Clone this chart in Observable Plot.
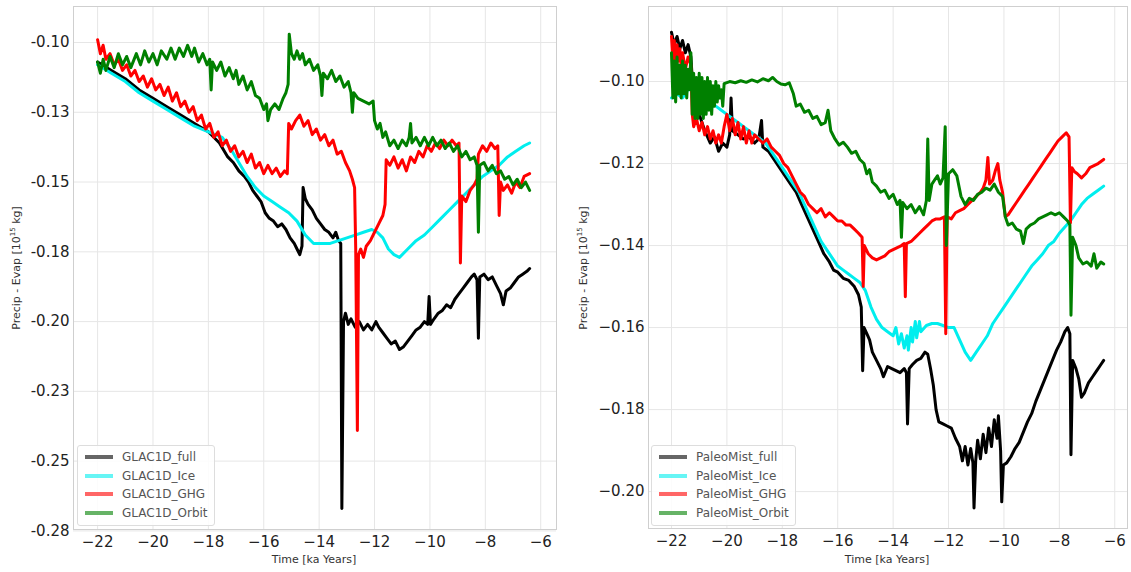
<!DOCTYPE html>
<html>
<head>
<meta charset="utf-8">
<script src="https://cdn.jsdelivr.net/npm/d3@7"></script>
<script src="https://cdn.jsdelivr.net/npm/@observablehq/plot@0.6"></script>
<style>
  html, body { margin: 0; padding: 0; background: #fff; }
  #wrap { position: relative; width: 1131px; height: 572px; font-family: "DejaVu Sans", sans-serif; overflow: hidden; }
  .panel { position: absolute; top: 0; }
  .ytitle { position: absolute; font-size: 11px; color: #333; white-space: nowrap; transform: translate(-50%, -50%) rotate(-90deg); }
  .xtitle { position: absolute; font-size: 11px; color: #333; white-space: nowrap; transform: translate(-50%, -50%); }
  .legend { position: absolute; background: rgba(255,255,255,0.85); border: 1px solid #ddd; border-radius: 3px; padding: 2px 6px 3px 7px; }
  .legend .row { display: flex; align-items: center; height: 18.6px; font-size: 12px; color: #555; }
  .legend .sw { width: 28px; height: 4px; margin-right: 9px; opacity: 0.6; }
</style>
</head>
<body>
<div id="wrap"></div>
<script>
// ---------------- DATA ----------------
const seriesColors = ["#000000", "#00eeee", "#ff0000", "#008000"];
const xTicks = [-22, -20, -18, -16, -14, -12, -10, -8, -6];

const leftNames = ["GLAC1D_full", "GLAC1D_Ice", "GLAC1D_GHG", "GLAC1D_Orbit"];
const rightNames = ["PaleoMist_full", "PaleoMist_Ice", "PaleoMist_GHG", "PaleoMist_Orbit"];

const leftYTicks = [-0.10, -0.125, -0.15, -0.175, -0.20, -0.225, -0.25, -0.275];
const leftYTickLabels = ["-0.10", "-0.13", "-0.15", "-0.18", "-0.20", "-0.23", "-0.25", "-0.28"];
const rightYTicks = [-0.10, -0.12, -0.14, -0.16, -0.18, -0.20];

// GLAC1D (left panel): [time ka, Precip - Evap]
const glacFull = [[-22.0,-0.107],[-21.5,-0.110],[-21.0,-0.113],[-20.5,-0.117],[-20.0,-0.120],[-19.5,-0.123],[-19.0,-0.126],[-18.5,-0.129],[-18.0,-0.132],[-17.6,-0.136],[-17.3,-0.141],[-17.1,-0.143],[-16.9,-0.146],[-16.7,-0.148],[-16.55,-0.150],[-16.4,-0.153],[-16.25,-0.155],[-16.1,-0.157],[-15.95,-0.161],[-15.8,-0.163],[-15.65,-0.164],[-15.5,-0.166],[-15.35,-0.165],[-15.2,-0.167],[-15.05,-0.170],[-14.9,-0.172],[-14.8,-0.174],[-14.7,-0.176],[-14.62,-0.173],[-14.58,-0.152],[-14.5,-0.156],[-14.4,-0.158],[-14.25,-0.160],[-14.1,-0.163],[-13.95,-0.165],[-13.8,-0.167],[-13.65,-0.168],[-13.5,-0.170],[-13.4,-0.168],[-13.3,-0.171],[-13.22,-0.172],[-13.18,-0.267],[-13.12,-0.200],[-13.05,-0.197],[-12.95,-0.201],[-12.85,-0.199],[-12.7,-0.202],[-12.55,-0.200],[-12.4,-0.203],[-12.25,-0.201],[-12.1,-0.203],[-11.95,-0.200],[-11.85,-0.202],[-11.7,-0.204],[-11.55,-0.206],[-11.4,-0.208],[-11.25,-0.207],[-11.1,-0.210],[-10.95,-0.209],[-10.8,-0.207],[-10.65,-0.205],[-10.5,-0.203],[-10.35,-0.202],[-10.2,-0.200],[-10.08,-0.201],[-10.03,-0.191],[-9.98,-0.201],[-9.85,-0.199],[-9.7,-0.197],[-9.55,-0.196],[-9.4,-0.194],[-9.25,-0.195],[-9.1,-0.192],[-8.95,-0.190],[-8.8,-0.188],[-8.65,-0.186],[-8.5,-0.184],[-8.4,-0.183],[-8.3,-0.185],[-8.25,-0.206],[-8.2,-0.184],[-8.05,-0.183],[-7.9,-0.185],[-7.75,-0.184],[-7.6,-0.187],[-7.45,-0.190],[-7.35,-0.194],[-7.25,-0.189],[-7.1,-0.188],[-6.95,-0.186],[-6.8,-0.184],[-6.65,-0.183],[-6.5,-0.182],[-6.4,-0.181]];

const glacIce = [[-22.0,-0.108],[-21.5,-0.111],[-21.0,-0.114],[-20.5,-0.118],[-20.0,-0.121],[-19.5,-0.124],[-19.0,-0.127],[-18.5,-0.130],[-18.0,-0.132],[-17.5,-0.134],[-17.2,-0.138],[-16.9,-0.143],[-16.6,-0.148],[-16.3,-0.152],[-16.0,-0.155],[-15.7,-0.157],[-15.4,-0.159],[-15.1,-0.161],[-14.8,-0.164],[-14.5,-0.169],[-14.2,-0.172],[-13.9,-0.172],[-13.6,-0.172],[-13.3,-0.171],[-13.0,-0.170],[-12.7,-0.169],[-12.4,-0.168],[-12.1,-0.167],[-11.9,-0.168],[-11.7,-0.170],[-11.5,-0.174],[-11.3,-0.176],[-11.1,-0.177],[-10.8,-0.174],[-10.5,-0.171],[-10.2,-0.169],[-9.9,-0.166],[-9.6,-0.163],[-9.3,-0.160],[-9.0,-0.157],[-8.7,-0.154],[-8.4,-0.151],[-8.1,-0.148],[-7.8,-0.146],[-7.5,-0.144],[-7.2,-0.141],[-6.9,-0.139],[-6.6,-0.137],[-6.4,-0.136]];

const glacGHG = [[-22.0,-0.099],[-21.9,-0.104],[-21.8,-0.101],[-21.7,-0.106],[-21.55,-0.104],[-21.4,-0.108],[-21.25,-0.106],[-21.1,-0.110],[-20.95,-0.108],[-20.8,-0.112],[-20.65,-0.110],[-20.5,-0.114],[-20.35,-0.112],[-20.2,-0.116],[-20.05,-0.113],[-19.9,-0.117],[-19.75,-0.115],[-19.6,-0.119],[-19.45,-0.116],[-19.3,-0.121],[-19.15,-0.118],[-19.0,-0.123],[-18.85,-0.121],[-18.7,-0.125],[-18.55,-0.123],[-18.4,-0.128],[-18.25,-0.126],[-18.1,-0.131],[-17.95,-0.129],[-17.8,-0.134],[-17.65,-0.132],[-17.5,-0.137],[-17.35,-0.135],[-17.2,-0.139],[-17.05,-0.137],[-16.9,-0.141],[-16.75,-0.139],[-16.6,-0.143],[-16.45,-0.140],[-16.3,-0.145],[-16.15,-0.143],[-16.0,-0.147],[-15.85,-0.144],[-15.7,-0.147],[-15.55,-0.145],[-15.4,-0.148],[-15.25,-0.146],[-15.15,-0.147],[-15.1,-0.129],[-15.0,-0.131],[-14.85,-0.128],[-14.7,-0.126],[-14.55,-0.130],[-14.4,-0.128],[-14.25,-0.133],[-14.1,-0.131],[-13.95,-0.135],[-13.8,-0.133],[-13.65,-0.137],[-13.5,-0.135],[-13.35,-0.140],[-13.2,-0.139],[-13.05,-0.143],[-12.9,-0.146],[-12.8,-0.149],[-12.72,-0.152],[-12.68,-0.174],[-12.62,-0.239],[-12.58,-0.176],[-12.5,-0.174],[-12.4,-0.177],[-12.3,-0.173],[-12.15,-0.171],[-12.0,-0.168],[-11.85,-0.165],[-11.7,-0.162],[-11.62,-0.158],[-11.58,-0.142],[-11.45,-0.144],[-11.3,-0.141],[-11.15,-0.145],[-11.0,-0.142],[-10.85,-0.146],[-10.7,-0.141],[-10.55,-0.143],[-10.4,-0.139],[-10.25,-0.141],[-10.1,-0.137],[-9.95,-0.139],[-9.8,-0.136],[-9.65,-0.138],[-9.5,-0.135],[-9.35,-0.137],[-9.2,-0.135],[-9.05,-0.137],[-8.95,-0.136],[-8.9,-0.179],[-8.85,-0.155],[-8.7,-0.157],[-8.55,-0.153],[-8.4,-0.151],[-8.3,-0.149],[-8.25,-0.140],[-8.1,-0.137],[-7.95,-0.139],[-7.8,-0.136],[-7.65,-0.138],[-7.55,-0.137],[-7.5,-0.162],[-7.45,-0.150],[-7.35,-0.153],[-7.2,-0.151],[-7.05,-0.154],[-6.9,-0.150],[-6.75,-0.152],[-6.6,-0.148],[-6.4,-0.147]];

const glacOrbit = [[-22.0,-0.107],[-21.9,-0.111],[-21.8,-0.106],[-21.7,-0.110],[-21.55,-0.105],[-21.4,-0.109],[-21.25,-0.104],[-21.1,-0.108],[-20.95,-0.105],[-20.8,-0.109],[-20.6,-0.104],[-20.45,-0.108],[-20.3,-0.103],[-20.15,-0.107],[-20.0,-0.104],[-19.85,-0.108],[-19.7,-0.103],[-19.5,-0.106],[-19.35,-0.102],[-19.2,-0.106],[-19.05,-0.102],[-18.9,-0.105],[-18.75,-0.101],[-18.6,-0.105],[-18.5,-0.102],[-18.35,-0.107],[-18.2,-0.104],[-18.05,-0.108],[-17.95,-0.106],[-17.9,-0.117],[-17.85,-0.107],[-17.7,-0.110],[-17.55,-0.107],[-17.4,-0.112],[-17.25,-0.109],[-17.1,-0.113],[-17.0,-0.110],[-16.9,-0.115],[-16.75,-0.112],[-16.6,-0.117],[-16.45,-0.114],[-16.3,-0.119],[-16.15,-0.120],[-16.0,-0.124],[-15.9,-0.122],[-15.85,-0.128],[-15.75,-0.124],[-15.6,-0.122],[-15.45,-0.124],[-15.3,-0.120],[-15.2,-0.118],[-15.12,-0.115],[-15.08,-0.097],[-15.0,-0.104],[-14.9,-0.106],[-14.8,-0.103],[-14.7,-0.106],[-14.6,-0.104],[-14.5,-0.108],[-14.35,-0.106],[-14.2,-0.110],[-14.05,-0.108],[-13.95,-0.112],[-13.9,-0.119],[-13.85,-0.111],[-13.7,-0.113],[-13.55,-0.110],[-13.4,-0.114],[-13.25,-0.112],[-13.1,-0.116],[-12.95,-0.114],[-12.85,-0.118],[-12.8,-0.125],[-12.75,-0.118],[-12.6,-0.120],[-12.4,-0.121],[-12.2,-0.122],[-12.05,-0.121],[-12.0,-0.128],[-11.9,-0.131],[-11.8,-0.129],[-11.7,-0.134],[-11.6,-0.132],[-11.45,-0.137],[-11.3,-0.135],[-11.15,-0.138],[-11.0,-0.135],[-10.85,-0.137],[-10.75,-0.134],[-10.7,-0.129],[-10.65,-0.136],[-10.5,-0.134],[-10.35,-0.137],[-10.2,-0.134],[-10.05,-0.137],[-9.9,-0.134],[-9.75,-0.137],[-9.6,-0.135],[-9.45,-0.138],[-9.3,-0.136],[-9.15,-0.139],[-9.0,-0.137],[-8.85,-0.141],[-8.7,-0.139],[-8.55,-0.142],[-8.4,-0.141],[-8.3,-0.144],[-8.25,-0.168],[-8.2,-0.144],[-8.05,-0.143],[-7.9,-0.146],[-7.75,-0.144],[-7.6,-0.147],[-7.45,-0.146],[-7.3,-0.149],[-7.15,-0.148],[-7.0,-0.151],[-6.85,-0.149],[-6.7,-0.152],[-6.55,-0.150],[-6.4,-0.153]];

// PaleoMist (right panel)
const paleoFull = [[-22.0,-0.088],[-21.9,-0.091],[-21.8,-0.089],[-21.7,-0.092],[-21.6,-0.090],[-21.5,-0.093],[-21.4,-0.091],[-21.3,-0.094],[-21.2,-0.105],[-21.0,-0.108],[-20.8,-0.112],[-20.6,-0.115],[-20.45,-0.1135],[-20.3,-0.117],[-20.15,-0.115],[-20.0,-0.116],[-19.9,-0.113],[-19.85,-0.104],[-19.8,-0.112],[-19.6,-0.113],[-19.4,-0.114],[-19.2,-0.1135],[-19.0,-0.115],[-18.85,-0.114],[-18.75,-0.1095],[-18.7,-0.116],[-18.5,-0.117],[-18.3,-0.119],[-18.1,-0.121],[-17.9,-0.123],[-17.7,-0.125],[-17.5,-0.127],[-17.3,-0.130],[-17.1,-0.133],[-16.9,-0.136],[-16.7,-0.139],[-16.5,-0.142],[-16.3,-0.144],[-16.15,-0.146],[-16.0,-0.1465],[-15.8,-0.148],[-15.6,-0.1485],[-15.4,-0.150],[-15.25,-0.152],[-15.15,-0.155],[-15.1,-0.1705],[-15.05,-0.160],[-14.95,-0.1615],[-14.85,-0.163],[-14.75,-0.166],[-14.6,-0.168],[-14.45,-0.170],[-14.35,-0.172],[-14.2,-0.1695],[-14.05,-0.170],[-13.9,-0.1705],[-13.75,-0.171],[-13.6,-0.170],[-13.52,-0.171],[-13.48,-0.1835],[-13.42,-0.170],[-13.3,-0.169],[-13.15,-0.168],[-13.0,-0.1675],[-12.85,-0.166],[-12.75,-0.1665],[-12.65,-0.170],[-12.55,-0.174],[-12.45,-0.180],[-12.35,-0.183],[-12.2,-0.1835],[-12.05,-0.184],[-11.9,-0.1845],[-11.75,-0.187],[-11.6,-0.189],[-11.5,-0.1925],[-11.4,-0.1890],[-11.3,-0.1935],[-11.2,-0.1895],[-11.12,-0.1930],[-11.08,-0.204],[-11.02,-0.1925],[-10.95,-0.1875],[-10.85,-0.1920],[-10.75,-0.1860],[-10.65,-0.1905],[-10.55,-0.1845],[-10.45,-0.1890],[-10.35,-0.1825],[-10.25,-0.1870],[-10.2,-0.1815],[-10.12,-0.190],[-10.08,-0.2025],[-10.02,-0.1935],[-9.9,-0.193],[-9.75,-0.1915],[-9.6,-0.1895],[-9.45,-0.188],[-9.3,-0.1855],[-9.15,-0.183],[-9.0,-0.181],[-8.85,-0.178],[-8.7,-0.1755],[-8.55,-0.173],[-8.4,-0.1705],[-8.25,-0.168],[-8.1,-0.1655],[-7.95,-0.1635],[-7.8,-0.161],[-7.7,-0.160],[-7.62,-0.1615],[-7.58,-0.191],[-7.52,-0.168],[-7.4,-0.170],[-7.3,-0.1725],[-7.2,-0.177],[-7.1,-0.176],[-6.95,-0.1735],[-6.8,-0.172],[-6.65,-0.1705],[-6.5,-0.169],[-6.4,-0.168]];

const paleoIce = [[-22.0,-0.104],[-21.8,-0.103],[-21.6,-0.104],[-21.4,-0.102],[-21.2,-0.1015],[-21.0,-0.103],[-20.8,-0.104],[-20.6,-0.105],[-20.4,-0.106],[-20.2,-0.107],[-20.0,-0.108],[-19.8,-0.109],[-19.6,-0.110],[-19.4,-0.111],[-19.2,-0.112],[-19.0,-0.113],[-18.8,-0.114],[-18.6,-0.115],[-18.4,-0.117],[-18.2,-0.119],[-18.0,-0.121],[-17.8,-0.123],[-17.6,-0.125],[-17.4,-0.127],[-17.2,-0.130],[-17.0,-0.133],[-16.8,-0.136],[-16.6,-0.139],[-16.4,-0.141],[-16.2,-0.143],[-16.0,-0.145],[-15.8,-0.146],[-15.6,-0.147],[-15.4,-0.148],[-15.2,-0.149],[-15.0,-0.151],[-14.8,-0.155],[-14.6,-0.158],[-14.4,-0.160],[-14.2,-0.161],[-14.0,-0.162],[-13.9,-0.1600],[-13.8,-0.1640],[-13.7,-0.1615],[-13.6,-0.1650],[-13.5,-0.1620],[-13.45,-0.1655],[-13.35,-0.1600],[-13.3,-0.1635],[-13.2,-0.1585],[-13.15,-0.1625],[-13.05,-0.1585],[-13.0,-0.1610],[-12.8,-0.1595],[-12.6,-0.159],[-12.4,-0.159],[-12.2,-0.1595],[-12.0,-0.160],[-11.8,-0.160],[-11.6,-0.163],[-11.4,-0.166],[-11.2,-0.168],[-11.0,-0.166],[-10.8,-0.164],[-10.6,-0.162],[-10.4,-0.159],[-10.2,-0.157],[-10.0,-0.155],[-9.8,-0.153],[-9.6,-0.151],[-9.4,-0.149],[-9.2,-0.147],[-9.0,-0.145],[-8.8,-0.1435],[-8.6,-0.142],[-8.4,-0.140],[-8.2,-0.139],[-8.0,-0.137],[-7.8,-0.1355],[-7.6,-0.134],[-7.4,-0.132],[-7.2,-0.130],[-7.0,-0.1285],[-6.8,-0.1275],[-6.6,-0.1265],[-6.4,-0.1255]];

const paleoGHG = [[-22.0,-0.089],[-21.95,-0.095],[-21.9,-0.090],[-21.85,-0.096],[-21.8,-0.091],[-21.75,-0.095],[-21.7,-0.092],[-21.65,-0.096],[-21.6,-0.093],[-21.5,-0.097],[-21.4,-0.094],[-21.3,-0.096],[-21.25,-0.108],[-21.2,-0.111],[-21.1,-0.109],[-21.0,-0.112],[-20.9,-0.110],[-20.8,-0.113],[-20.7,-0.111],[-20.6,-0.114],[-20.5,-0.112],[-20.4,-0.115],[-20.3,-0.113],[-20.2,-0.115],[-20.1,-0.111],[-20.0,-0.108],[-19.9,-0.112],[-19.8,-0.109],[-19.7,-0.113],[-19.6,-0.110],[-19.5,-0.114],[-19.4,-0.111],[-19.3,-0.115],[-19.2,-0.112],[-19.1,-0.115],[-19.0,-0.113],[-18.85,-0.114],[-18.7,-0.115],[-18.55,-0.114],[-18.4,-0.116],[-18.25,-0.117],[-18.1,-0.118],[-17.95,-0.120],[-17.8,-0.121],[-17.65,-0.123],[-17.5,-0.125],[-17.35,-0.127],[-17.2,-0.128],[-17.05,-0.130],[-16.9,-0.131],[-16.75,-0.132],[-16.6,-0.131],[-16.45,-0.133],[-16.3,-0.132],[-16.15,-0.133],[-16.0,-0.134],[-15.85,-0.134],[-15.7,-0.135],[-15.55,-0.135],[-15.4,-0.136],[-15.25,-0.137],[-15.12,-0.138],[-15.08,-0.150],[-15.04,-0.140],[-14.9,-0.142],[-14.75,-0.143],[-14.6,-0.1435],[-14.45,-0.143],[-14.3,-0.1425],[-14.15,-0.1415],[-14.0,-0.141],[-13.85,-0.1405],[-13.7,-0.140],[-13.6,-0.1395],[-13.56,-0.1525],[-13.52,-0.1395],[-13.35,-0.139],[-13.2,-0.138],[-13.05,-0.137],[-12.9,-0.136],[-12.75,-0.135],[-12.6,-0.134],[-12.45,-0.1335],[-12.3,-0.1335],[-12.15,-0.133],[-12.1,-0.1615],[-12.05,-0.133],[-11.9,-0.1335],[-11.75,-0.132],[-11.6,-0.1315],[-11.45,-0.131],[-11.3,-0.130],[-11.15,-0.129],[-11.0,-0.128],[-10.85,-0.127],[-10.75,-0.126],[-10.65,-0.124],[-10.58,-0.1185],[-10.52,-0.125],[-10.4,-0.124],[-10.3,-0.1215],[-10.22,-0.1200],[-10.15,-0.124],[-10.05,-0.127],[-9.95,-0.133],[-9.85,-0.1325],[-9.7,-0.131],[-9.55,-0.1295],[-9.4,-0.128],[-9.25,-0.1265],[-9.1,-0.125],[-8.95,-0.1235],[-8.8,-0.122],[-8.65,-0.1205],[-8.5,-0.119],[-8.35,-0.1175],[-8.2,-0.116],[-8.05,-0.1145],[-7.9,-0.1135],[-7.75,-0.1125],[-7.65,-0.1135],[-7.6,-0.1345],[-7.55,-0.121],[-7.45,-0.122],[-7.35,-0.1225],[-7.2,-0.1235],[-7.05,-0.1225],[-6.9,-0.121],[-6.75,-0.1205],[-6.6,-0.120],[-6.4,-0.119]];

const paleoOrbit = [[-22.0,-0.093],[-21.95,-0.104],[-21.9,-0.095],[-21.85,-0.105],[-21.8,-0.094],[-21.75,-0.103],[-21.7,-0.096],[-21.65,-0.104],[-21.6,-0.095],[-21.55,-0.103],[-21.5,-0.096],[-21.45,-0.104],[-21.4,-0.097],[-21.35,-0.102],[-21.3,-0.093],[-21.25,-0.108],[-21.2,-0.098],[-21.15,-0.109],[-21.1,-0.099],[-21.05,-0.109],[-21.0,-0.098],[-20.95,-0.108],[-20.9,-0.099],[-20.85,-0.109],[-20.8,-0.100],[-20.75,-0.108],[-20.7,-0.099],[-20.65,-0.107],[-20.6,-0.100],[-20.55,-0.108],[-20.5,-0.101],[-20.45,-0.106],[-20.4,-0.100],[-20.35,-0.105],[-20.3,-0.101],[-20.25,-0.104],[-20.2,-0.102],[-20.15,-0.106],[-20.1,-0.1005],[-19.9,-0.1000],[-19.7,-0.1003],[-19.5,-0.0998],[-19.3,-0.1002],[-19.1,-0.0996],[-18.9,-0.1001],[-18.7,-0.0993],[-18.5,-0.0998],[-18.35,-0.0990],[-18.2,-0.1000],[-18.05,-0.1006],[-17.9,-0.1008],[-17.75,-0.1003],[-17.6,-0.1030],[-17.5,-0.1060],[-17.35,-0.1055],[-17.2,-0.1075],[-17.05,-0.1070],[-16.9,-0.1090],[-16.75,-0.1085],[-16.6,-0.1105],[-16.45,-0.1100],[-16.35,-0.1070],[-16.25,-0.1120],[-16.1,-0.1140],[-15.95,-0.1155],[-15.8,-0.1148],[-15.65,-0.1160],[-15.5,-0.1175],[-15.35,-0.1170],[-15.2,-0.1190],[-15.05,-0.1200],[-14.95,-0.1225],[-14.85,-0.1215],[-14.75,-0.1245],[-14.6,-0.1255],[-14.45,-0.1270],[-14.3,-0.1265],[-14.15,-0.1285],[-14.0,-0.1275],[-13.85,-0.1300],[-13.75,-0.1290],[-13.7,-0.1380],[-13.65,-0.1295],[-13.5,-0.1310],[-13.35,-0.1300],[-13.2,-0.1320],[-13.05,-0.1305],[-12.9,-0.1325],[-12.8,-0.1290],[-12.75,-0.1140],[-12.7,-0.1290],[-12.6,-0.1250],[-12.5,-0.1240],[-12.4,-0.1230],[-12.3,-0.1250],[-12.2,-0.1235],[-12.12,-0.1110],[-12.08,-0.1400],[-12.0,-0.1225],[-11.85,-0.1215],[-11.7,-0.1230],[-11.55,-0.1280],[-11.4,-0.1300],[-11.25,-0.1285],[-11.1,-0.1290],[-10.95,-0.1275],[-10.8,-0.1270],[-10.65,-0.1260],[-10.5,-0.1265],[-10.35,-0.1250],[-10.2,-0.1270],[-10.05,-0.1280],[-9.95,-0.1330],[-9.85,-0.1350],[-9.7,-0.1345],[-9.55,-0.1360],[-9.4,-0.1365],[-9.3,-0.1395],[-9.2,-0.1360],[-9.05,-0.1350],[-8.9,-0.1345],[-8.75,-0.1335],[-8.6,-0.1330],[-8.45,-0.1325],[-8.3,-0.1320],[-8.15,-0.1325],[-8.0,-0.1320],[-7.85,-0.1330],[-7.7,-0.1340],[-7.62,-0.1350],[-7.58,-0.1570],[-7.52,-0.1380],[-7.4,-0.1400],[-7.3,-0.1430],[-7.15,-0.1445],[-7.0,-0.1440],[-6.85,-0.1450],[-6.75,-0.1420],[-6.65,-0.1455],[-6.5,-0.1440],[-6.4,-0.1445]];

// ---------------- DRAW ----------------
const wrap = document.getElementById("wrap");
const fmtInt = d3.format("d");
const fmt2 = d3.format(".2f");

function panel({left, width, marginLeft, marginRight, marginBottom, xDomain, yDomain, yTicks, yFmt, series}) {
  const marks = [
    Plot.ruleX(xTicks, {stroke: "#e6e6e6", strokeWidth: 1}),
    Plot.ruleY(yTicks, {stroke: "#e6e6e6", strokeWidth: 1}),
    ...series.map((s, i) => Plot.line(s, {x: d => d[0], y: d => d[1], stroke: seriesColors[i], strokeWidth: 3, strokeLinejoin: "round", clip: true})),
    Plot.frame({stroke: "#cfcfcf"})
  ];
  const svg = Plot.plot({
    width, height: 572,
    marginLeft, marginRight, marginTop: 6, marginBottom,
    style: {fontFamily: "DejaVu Sans, sans-serif", fontSize: "15px", color: "#222", background: "#fff", overflow: "visible"},
    x: {domain: xDomain, ticks: xTicks, tickFormat: fmtInt, tickSize: 0, tickPadding: 7, label: null},
    y: {domain: yDomain, ticks: yTicks, tickFormat: yFmt, tickSize: 0, tickPadding: 4, label: null},
    marks
  });
  svg.classList.add("panel");
  svg.style.left = left + "px";
  wrap.appendChild(svg);
}

panel({left: 0, width: 565, marginLeft: 73, marginRight: 9, marginBottom: 43,
  xDomain: [-22.87, -5.43], yDomain: [-0.2745, -0.0871], yTicks: leftYTicks,
  yFmt: (d, i) => leftYTickLabels[i],
  series: [glacFull, glacIce, glacGHG, glacOrbit]});

panel({left: 565, width: 566, marginLeft: 83, marginRight: 4, marginBottom: 44,
  xDomain: [-22.83, -5.54], yDomain: [-0.2090, -0.0817], yTicks: rightYTicks,
  yFmt: fmt2,
  series: [paleoFull, paleoIce, paleoGHG, paleoOrbit]});

function addText(cls, text, x, y) {
  const el = document.createElement("div");
  el.className = cls;
  el.innerHTML = text;
  el.style.left = x + "px";
  el.style.top = y + "px";
  wrap.appendChild(el);
}
const yTitle = "Precip - Evap [10<sup style='font-size:7px'>15</sup> kg]";
addText("ytitle", yTitle, 16, 268);
addText("ytitle", yTitle, 583, 268);
addText("xtitle", "Time [ka Years]", 314, 559);
addText("xtitle", "Time [ka Years]", 887, 559);

function legend(names, x, y) {
  const box = document.createElement("div");
  box.className = "legend";
  box.style.left = x + "px";
  box.style.top = y + "px";
  names.forEach((n, i) => {
    const row = document.createElement("div");
    row.className = "row";
    const sw = document.createElement("div");
    sw.className = "sw";
    sw.style.background = seriesColors[i];
    const t = document.createElement("span");
    t.textContent = n;
    row.appendChild(sw); row.appendChild(t);
    box.appendChild(row);
  });
  wrap.appendChild(box);
}
legend(leftNames, 77, 445);
legend(rightNames, 651, 445);
</script>
</body>
</html>
